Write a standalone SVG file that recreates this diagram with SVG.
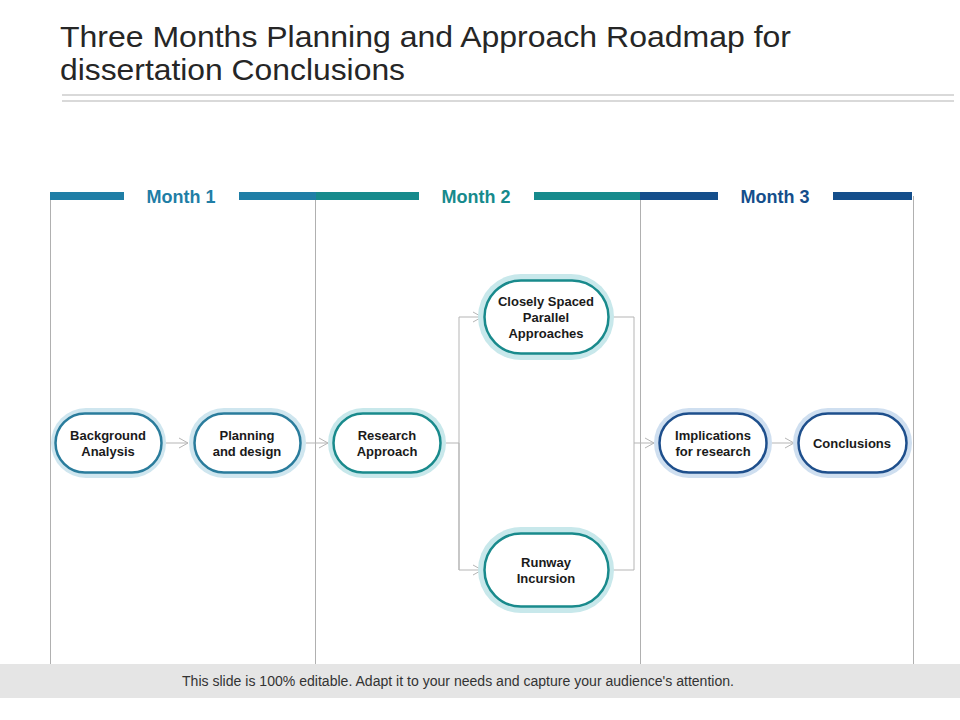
<svg xmlns="http://www.w3.org/2000/svg" width="960" height="720" viewBox="0 0 960 720">
<defs>
<style>
.title{font-family:"Liberation Sans",Arial,sans-serif;font-size:29px;fill:#262626}
.month{font-family:"Liberation Sans",Arial,sans-serif;font-size:18px;font-weight:bold;text-anchor:middle}
.lbl{font-family:"Liberation Sans",Arial,sans-serif;font-size:13px;font-weight:bold;fill:#1a1a1a;text-anchor:middle}
.vl{stroke:#b0b0b0;stroke-width:1;fill:none}
.con{stroke:#b5b5b5;stroke-width:1;fill:none}
.g1{fill:#cfe6ef}.s1{fill:#fff;stroke:#2a7c9c;stroke-width:2.5}
.g2{fill:#c8e8eb}.s2{fill:#fff;stroke:#198a8c;stroke-width:2.5}
.g3{fill:#cfdff0}.s3{fill:#fff;stroke:#1e4f8c;stroke-width:2.5}
</style>
<marker id="arr" markerWidth="12" markerHeight="12" refX="10" refY="6" orient="auto" markerUnits="userSpaceOnUse">
<path d="M1,1 L10,6 L1,11" fill="none" stroke="#b5b5b5" stroke-width="1"/>
</marker>
</defs>
<rect width="960" height="720" fill="#fff"/>
<g id="title">
<text class="title" x="60" y="47" textLength="731" lengthAdjust="spacingAndGlyphs">Three Months Planning and Approach Roadmap for</text>
<text class="title" x="60" y="80" textLength="345" lengthAdjust="spacingAndGlyphs">dissertation Conclusions</text>
<line x1="62" y1="95" x2="954" y2="95" stroke="#d9d9d9" stroke-width="2"/>
<line x1="62" y1="101" x2="954" y2="101" stroke="#d9d9d9" stroke-width="2"/>
</g>
<g id="grid">
<line class="vl" x1="50.5" y1="196" x2="50.5" y2="664"/>
<line class="vl" x1="315.5" y1="196" x2="315.5" y2="664"/>
<line class="vl" x1="640.5" y1="196" x2="640.5" y2="664"/>
<line class="vl" x1="913.5" y1="196" x2="913.5" y2="664"/>
</g>
<g id="month1">
<rect x="50" y="192" width="74" height="8" fill="#1f7ea6"/>
<rect x="239" y="192" width="77" height="8" fill="#1f7ea6"/>
<text class="month" x="181" y="203" fill="#1f7ea6">Month 1</text>
</g>
<g id="month2">
<rect x="316" y="192" width="103" height="8" fill="#168a8c"/>
<rect x="534" y="192" width="106" height="8" fill="#168a8c"/>
<text class="month" x="476" y="203" fill="#168a8c">Month 2</text>
</g>
<g id="month3">
<rect x="640" y="192" width="78" height="8" fill="#144e8b"/>
<rect x="833" y="192" width="79" height="8" fill="#144e8b"/>
<text class="month" x="775" y="203" fill="#144e8b">Month 3</text>
</g>
<g id="connectors">
<line class="con" x1="166" y1="443" x2="188" y2="443" marker-end="url(#arr)"/>
<line class="con" x1="306" y1="443" x2="328" y2="443" marker-end="url(#arr)"/>
<polyline class="con" points="446,443 459,443"/>
<polyline class="con" points="459,570 459,317 482,317" marker-end="url(#arr)"/>
<polyline class="con" points="459,443 459,570 482,570" marker-end="url(#arr)"/>
<polyline class="con" points="611,317 634,317 634,570 611,570"/>
<line class="con" x1="634" y1="443" x2="654" y2="443" marker-end="url(#arr)"/>
<line class="con" x1="772" y1="443" x2="794" y2="443" marker-end="url(#arr)"/>
</g>
<g id="n-background">
<rect class="g1" x="51" y="408" width="115" height="70" rx="35"/>
<rect class="s1" x="55.5" y="413.5" width="106" height="59" rx="29.5"/>
<text class="lbl" x="108" y="440">Background</text>
<text class="lbl" x="108" y="456">Analysis</text>
</g>
<g id="n-planning">
<rect class="g1" x="189" y="408" width="117" height="70" rx="35"/>
<rect class="s1" x="194.5" y="413.5" width="106" height="59" rx="29.5"/>
<text class="lbl" x="247" y="440">Planning</text>
<text class="lbl" x="247" y="456">and design</text>
</g>
<g id="n-research">
<rect class="g2" x="328" y="408" width="118" height="70" rx="35"/>
<rect class="s2" x="333.5" y="413.5" width="107" height="59" rx="29.5"/>
<text class="lbl" x="387" y="440">Research</text>
<text class="lbl" x="387" y="456">Approach</text>
</g>
<g id="n-closely">
<rect class="g2" x="478" y="274" width="136" height="86" rx="43"/>
<rect class="s2" x="484.5" y="280.5" width="124" height="73" rx="36.5"/>
<text class="lbl" x="546" y="306">Closely  Spaced</text>
<text class="lbl" x="546" y="322">Parallel</text>
<text class="lbl" x="546" y="338">Approaches</text>
</g>
<g id="n-runway">
<rect class="g2" x="478" y="527" width="136" height="86" rx="43"/>
<rect class="s2" x="484.5" y="533.5" width="124" height="73" rx="36.5"/>
<text class="lbl" x="546" y="567">Runway</text>
<text class="lbl" x="546" y="583">Incursion</text>
</g>
<g id="n-implications">
<rect class="g3" x="654" y="408" width="118" height="70" rx="35"/>
<rect class="s3" x="659.5" y="413.5" width="107" height="59" rx="29.5"/>
<text class="lbl" x="713" y="440">Implications</text>
<text class="lbl" x="713" y="456">for research</text>
</g>
<g id="n-conclusions">
<rect class="g3" x="793" y="408" width="119" height="70" rx="35"/>
<rect class="s3" x="798.5" y="413.5" width="108" height="59" rx="29.5"/>
<text class="lbl" x="852" y="448">Conclusions</text>
</g>
<g id="footer">
<rect x="0" y="664" width="960" height="34" fill="#e5e5e5"/>
<text x="458" y="686" font-family="'Liberation Sans Narrow','Liberation Sans',Arial,sans-serif" font-size="14" fill="#333" text-anchor="middle" textLength="552" lengthAdjust="spacingAndGlyphs">This slide is 100% editable. Adapt it to your needs and capture your audience's attention.</text>
</g>
</svg>
